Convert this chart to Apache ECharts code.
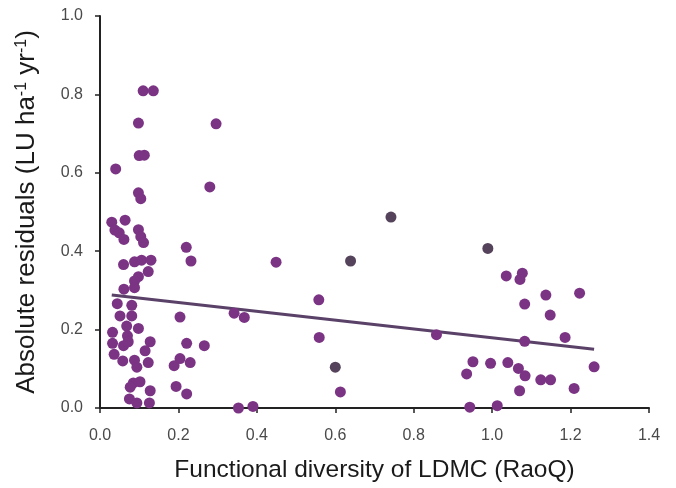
<!DOCTYPE html>
<html>
<head>
<meta charset="utf-8">
<script src="https://cdn.jsdelivr.net/npm/echarts@6/dist/echarts.min.js"></script>
<style>html,body{margin:0;padding:0;background:#fff;}#c{width:676px;height:488px;}</style>
</head>
<body>
<div id="c"></div>
<script>
// Purple points: [RaoQ, absolute residual]
const purpleX = [0.110,0.136,0.098,0.296,0.100,0.113,0.040,0.280,0.098,0.104,0.030,0.064,0.038,0.049,0.061,0.098,0.104,0.111,0.220,0.232,0.449,0.060,0.088,0.106,0.130,0.123,0.098,0.088,0.088,0.061,0.044,0.081,0.051,0.081,0.204,0.342,0.368,0.068,0.098,0.032,0.070,0.032,0.060,0.072,0.128,0.115,0.221,0.266,0.036,0.058,0.088,0.094,0.123,0.204,0.189,0.230,0.085,0.102,0.077,0.128,0.194,0.221,0.075,0.094,0.126,0.353,0.390,
  0.558,0.559,0.613,0.858,0.951,0.935,0.996,0.943,1.013,
  1.036,1.077,1.071,1.137,1.223,1.083,1.148,1.186,1.083,1.040,1.067,1.084,1.124,1.149,1.260,1.070,1.209];
const purpleY = [0.809,0.809,0.727,0.725,0.644,0.645,0.610,0.564,0.549,0.534,0.474,0.479,0.454,0.447,0.430,0.455,0.437,0.422,0.410,0.375,0.372,0.366,0.373,0.377,0.377,0.348,0.335,0.324,0.307,0.303,0.266,0.262,0.235,0.235,0.232,0.242,0.231,0.209,0.203,0.193,0.184,0.165,0.159,0.169,0.169,0.146,0.165,0.159,0.137,0.120,0.122,0.104,0.116,0.126,0.108,0.116,0.064,0.067,0.053,0.044,0.055,0.036,0.023,0.013,0.013,0.000,0.004,
  0.276,0.180,0.041,0.187,0.118,0.087,0.114,0.002,0.006,
  0.337,0.344,0.328,0.288,0.293,0.265,0.237,0.180,0.170,0.116,0.101,0.082,0.072,0.072,0.105,0.044,0.050];
// Darker grey points
const darkX = [0.742,0.639,0.989,0.600];
const darkY = [0.487,0.375,0.407,0.104];
// Fitted regression line end points
const fitX = [0.03, 1.26];
const fitY = [0.288, 0.150];
// Axis ticks
const xTicks = [0.0,0.2,0.4,0.6,0.8,1.0,1.2,1.4];
const yTicks = [0.0,0.2,0.4,0.6,0.8,1.0];

const zip = (a,b) => a.map((v,i)=>[v,b[i]]);
const font = '"Liberation Sans", Arial, sans-serif';

const chart = echarts.init(document.getElementById('c'), null, {renderer:'canvas'});
chart.setOption({
  animation:false,
  backgroundColor:'#ffffff',
  grid:{left:100,right:27,top:16,bottom:79},
  xAxis:{
    type:'value', min:xTicks[0], max:xTicks[xTicks.length-1], interval:0.2,
    name:'Functional diversity of LDMC (RaoQ)', nameLocation:'middle', nameGap:50,
    nameTextStyle:{fontFamily:font,fontSize:24.5,color:'#1a1a1a'},
    axisLine:{lineStyle:{color:'#222',width:2}},
    axisTick:{show:true,inside:false,length:5,lineStyle:{color:'#222',width:1.5}},
    axisLabel:{fontFamily:font,fontSize:16,color:'#4a4a4a',margin:20,formatter:v=>v.toFixed(1)},
    splitLine:{show:false}
  },
  yAxis:{
    type:'value', min:yTicks[0], max:yTicks[yTicks.length-1], interval:0.2,
    name:'{n|Absolute residuals (LU ha}{s|-1}{n| yr}{s|-1}{n|)}', nameLocation:'middle', nameGap:54,
    nameTextStyle:{fontFamily:font,fontSize:26,color:'#1a1a1a',
      rich:{n:{fontFamily:font,fontSize:26,color:'#1a1a1a',lineHeight:26,verticalAlign:'bottom'},
            s:{fontFamily:font,fontSize:16,color:'#1a1a1a',lineHeight:16,verticalAlign:'top',padding:[0,0,20,0]}}},
    axisLine:{show:true,lineStyle:{color:'#222',width:2}},
    axisTick:{show:true,inside:false,length:5,lineStyle:{color:'#222',width:1.5}},
    axisLabel:{fontFamily:font,fontSize:16,color:'#4a4a4a',margin:17,formatter:v=>v.toFixed(1)},
    splitLine:{show:false}
  },
  series:[
    {type:'line',data:zip(fitX,fitY),symbol:'none',lineStyle:{color:'#5a4168',width:3},z:1},
    {type:'scatter',data:zip(purpleX,purpleY),symbolSize:11,itemStyle:{color:'#7b3384',opacity:1},z:2},
    {type:'scatter',data:zip(darkX,darkY),symbolSize:11,itemStyle:{color:'#54435a',opacity:1},z:2}
  ]
});
</script>
</body>
</html>
